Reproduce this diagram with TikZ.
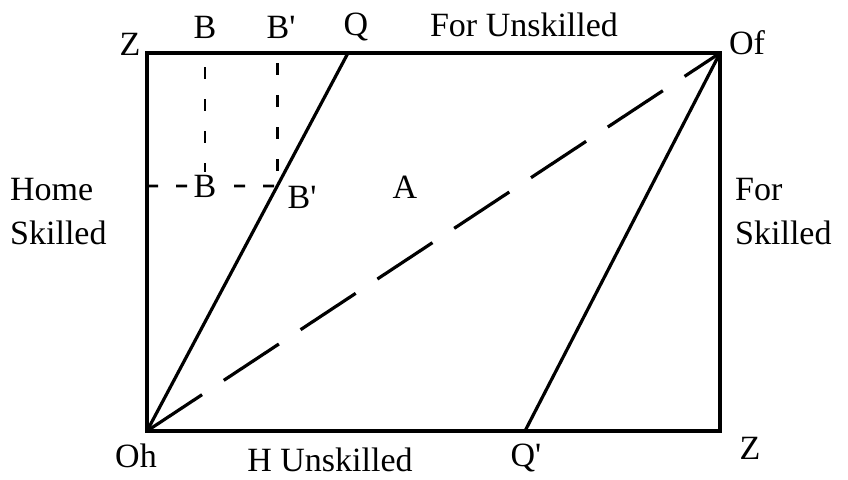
\documentclass[tikz,border=0pt]{standalone}
\usepackage{fontspec}
\setmainfont{Liberation Serif}
\usetikzlibrary{calc}
\tikzset{
  lbl/.style={font=\fontsize{34}{44}\selectfont, inner sep=0pt, text=black},
  frame/.style={line width=3.2pt, line cap=rect},
  solidline/.style={line width=3.2pt},
  longdash/.style={line width=3.2pt, dash pattern=on 66pt off 26pt},
  shortdash/.style={line width=2.6pt, dash pattern=on 12pt off 20pt},
}
\begin{document}
\begin{tikzpicture}[x=1pt,y=-1pt]
\useasboundingbox (0,0) rectangle (848,479);
% corners
\coordinate (Z) at (147,53);
\coordinate (Of) at (720,53);
\coordinate (Oh) at (147,431);
\coordinate (Zp) at (720,431);
\coordinate (Q) at (348,53);
\coordinate (Qp) at (525,431);
\coordinate (Btop) at (205,53);
\coordinate (Bmid) at (205,186);
\coordinate (HL) at (147,186);
\coordinate (Bp) at ($(Oh)!{(431-186)/378}!(Q)$);
\coordinate (Bptop) at (Bp |- Z);
% frame
\draw[frame] (Z) -- (Of) -- (Zp) -- (Oh) -- cycle;
% lines
\draw[solidline] (Oh) -- (Q);
\draw[solidline] (Qp) -- (Of);
\draw[longdash] (Oh) -- (Of);
\draw[shortdash] (Btop) ++(0,14) -- (Bmid);
\draw[shortdash] (Bptop) ++(0,10) -- (Bp);
\draw[shortdash, dash pattern=on 11pt off 18pt] (HL) -- (Bp);
% labels
\node[lbl, fill=white, inner sep=3pt] (lBm) at (Bmid) {B};
\node[lbl] (lBpm) at (302,197) {B\textquotesingle};
\node[lbl] (lA) at (405,187) {A};
\node[lbl] (lBt) at (205,27) {B};
\node[lbl] (lBpt) at (281,27) {B\textquotesingle};
\node[lbl] (lQ) at (356,27) {Q};
\node[lbl] (lFU) at (524,25) {For Unskilled};
\node[lbl] (lZ) at (130,44) {Z};
\node[lbl] (lOf) at (747,43) {Of};
\node[lbl, align=left, anchor=west] (lHS) at (10,212) {Home\\Skilled};
\node[lbl, align=left, anchor=west] (lFS) at (735,212) {For\\Skilled};
\node[lbl] (lOh) at (136,456) {Oh};
\node[lbl] (lHU) at (330,460) {H Unskilled};
\node[lbl] (lQp) at (526,458) {Q\textquotesingle};
\node[lbl] (lZp) at (750,448) {Z};
\end{tikzpicture}
\end{document}
